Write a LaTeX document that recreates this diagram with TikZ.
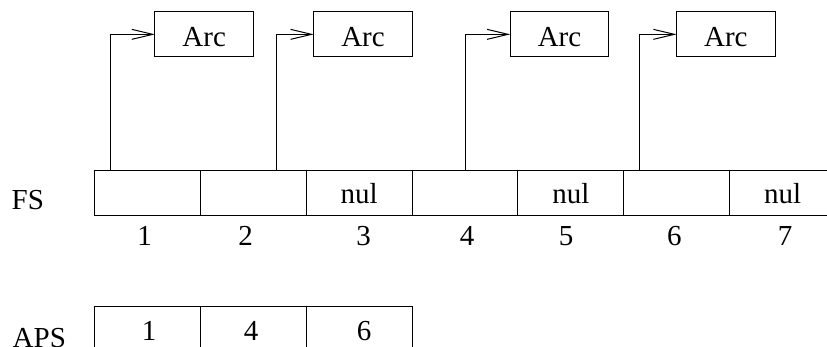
\documentclass[tikz,border=0pt]{standalone}
\usepackage{fontspec}
\setmainfont{Liberation Serif}
\usetikzlibrary{arrows.meta}
\begin{document}
\begin{tikzpicture}[x=1pt,y=-1pt,
  every node/.style={font=\fontsize{29}{35}\selectfont, inner sep=0pt, outer sep=0pt},
  cell/.style={draw, line width=1pt, minimum width=105.9pt, minimum height=45.5pt, anchor=north west},
  arcbox/.style={draw, line width=1pt, minimum width=98.5pt, minimum height=44.7pt, text height=25pt, text depth=0pt},
  link/.style={line width=1pt, -{Straight Barb[length=21pt,width=10pt]}},
  idx/.style={anchor=base}]
\clip (0,0) rectangle (827,347);

% FS row
\node[cell] (f1) at (94.3,170.5) {};
\node[cell] (f2) at (200.2,170.5) {};
\node[cell] (f3) at (306.1,170.5) {nul};
\node[cell] (f4) at (412.0,170.5) {};
\node[cell] (f5) at (517.9,170.5) {nul};
\node[cell] (f6) at (623.8,170.5) {};
\node[cell] (f7) at (729.7,170.5) {nul};
\node[anchor=base west] (fs) at (11.7,210) {FS};

% indices under FS
\node[idx] (i1) at (144.7,246) {1};
\node[idx] (i2) at (245.7,246) {2};
\node[idx] (i3) at (363.5,246) {3};
\node[idx] (i4) at (467,246) {4};
\node[idx] (i5) at (566,246) {5};
\node[idx] (i6) at (674.3,246) {6};
\node[idx] (i7) at (785,246) {7};

% APS row
\node[cell] (p1) at (94.3,306.7) {};
\node[cell] (p2) at (200.2,306.7) {};
\node[cell] (p3) at (306.1,306.7) {};
\node[idx] (v1) at (149,340) {1};
\node[idx] (v2) at (251,340) {4};
\node[idx] (v3) at (364,340) {6};
\node[anchor=base west] (aps) at (12.7,347) {APS};

% Arc records
\node[arcbox] (a1) at (204.2,34.35) {Arc};
\node[arcbox] (a2) at (363.0,34.35) {Arc};
\node[arcbox] (a3) at (559.5,34.35) {Arc};
\node[arcbox] (a4) at (725.8,34.35) {Arc};

% links from FS cells to their arcs
\draw[link] ([xshift=15.7pt]f1.north west) |- (a1.west);
\draw[link] ([xshift=75.8pt]f2.north west) |- (a2.west);
\draw[link] ([xshift=53pt]f4.north west) |- (a3.west);
\draw[link] ([xshift=15.5pt]f6.north west) |- (a4.west);
\end{tikzpicture}
\end{document}
